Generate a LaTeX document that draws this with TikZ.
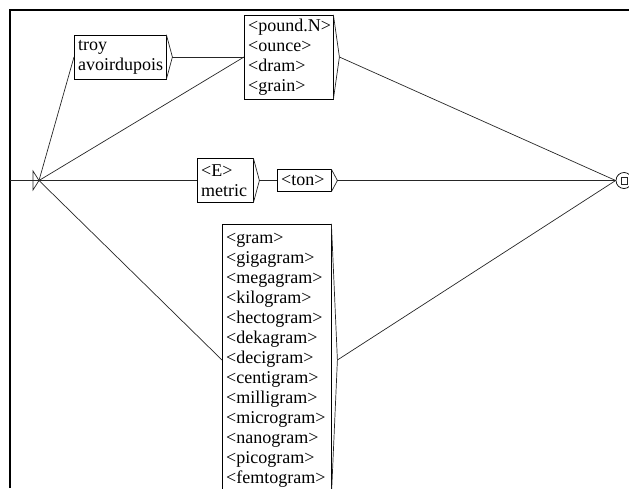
\documentclass[tikz,border=0pt]{standalone}
\usepackage{fontspec}
\setmainfont{Liberation Serif}
\begin{document}
\begin{tikzpicture}[x=1pt, y=-1pt,
		box/.style={
			draw=black, rectangle, anchor=west, inner xsep=4pt, inner ysep=0pt,
			align=left, font=\fontsize{18}{20}\selectfont
		},
		edge/.style={draw=black!85, line width=0.7pt},
		frame/.style={draw=black, line width=2pt},
	]
	\useasboundingbox (0,0) rectangle (629,488);
	\draw[frame] (10,488) -- (10,9.5) -- (629,9.5);

	% initial and final states
	\coordinate (entry) at (10,180.5);
	\coordinate (init) at (39,180.5);
	\draw[edge] (33,171) -- (init) -- (33,190) -- cycle;
	\node [circle, draw=black, line width=0.7pt, minimum size=16pt, inner sep=0pt] (final) at (624,180.5) {};
	\draw[edge] (621,177) rectangle (627,184);

	% boxes
	\node [box, text width=84pt, minimum height=44pt] (troy) at (74,57) {troy\\avoirdupois};
	\node [box, text width=81pt, minimum height=84pt] (pound) at (244,57)
		{<pound.N>\\<ounce>\\<dram>\\<grain>};
	\node [box, text width=48pt, minimum height=44pt] (metric) at (197,180.5) {<E>\\metric};
	\node [box, text width=46pt, minimum height=22pt] (ton) at (277,180.5) {<ton>};
	\node [box, text width=101pt, minimum height=272pt] (gram) at (222,360)
		{<gram>\\<gigagram>\\<megagram>\\<kilogram>\\<hectogram>\\<dekagram>\\<decigram>\\
		<centigram>\\<milligram>\\<microgram>\\<nanogram>\\<picogram>\\<femtogram>};

	\foreach \b in {troy,pound,metric,ton,gram}{
		\coordinate (\b-out) at ([xshift=6pt]\b.east);
		\draw[edge] (\b.north east) -- (\b-out) -- (\b.south east);
	}

	% transitions
	\draw[edge] (entry) -- (init);
	\draw[edge] (init) -- (troy.west);
	\draw[edge] (init) -- (pound.west);
	\draw[edge] (init) -- (metric.west);
	\draw[edge] (init) -- (gram.west);
	\draw[edge] (troy-out) -- (pound.west);
	\draw[edge] (metric-out) -- (ton.west);
	\draw[edge] (pound-out) -- (final.west);
	\draw[edge] (ton-out) -- (final.west);
	\draw[edge] (gram-out) -- (final.west);
\end{tikzpicture}
\end{document}
